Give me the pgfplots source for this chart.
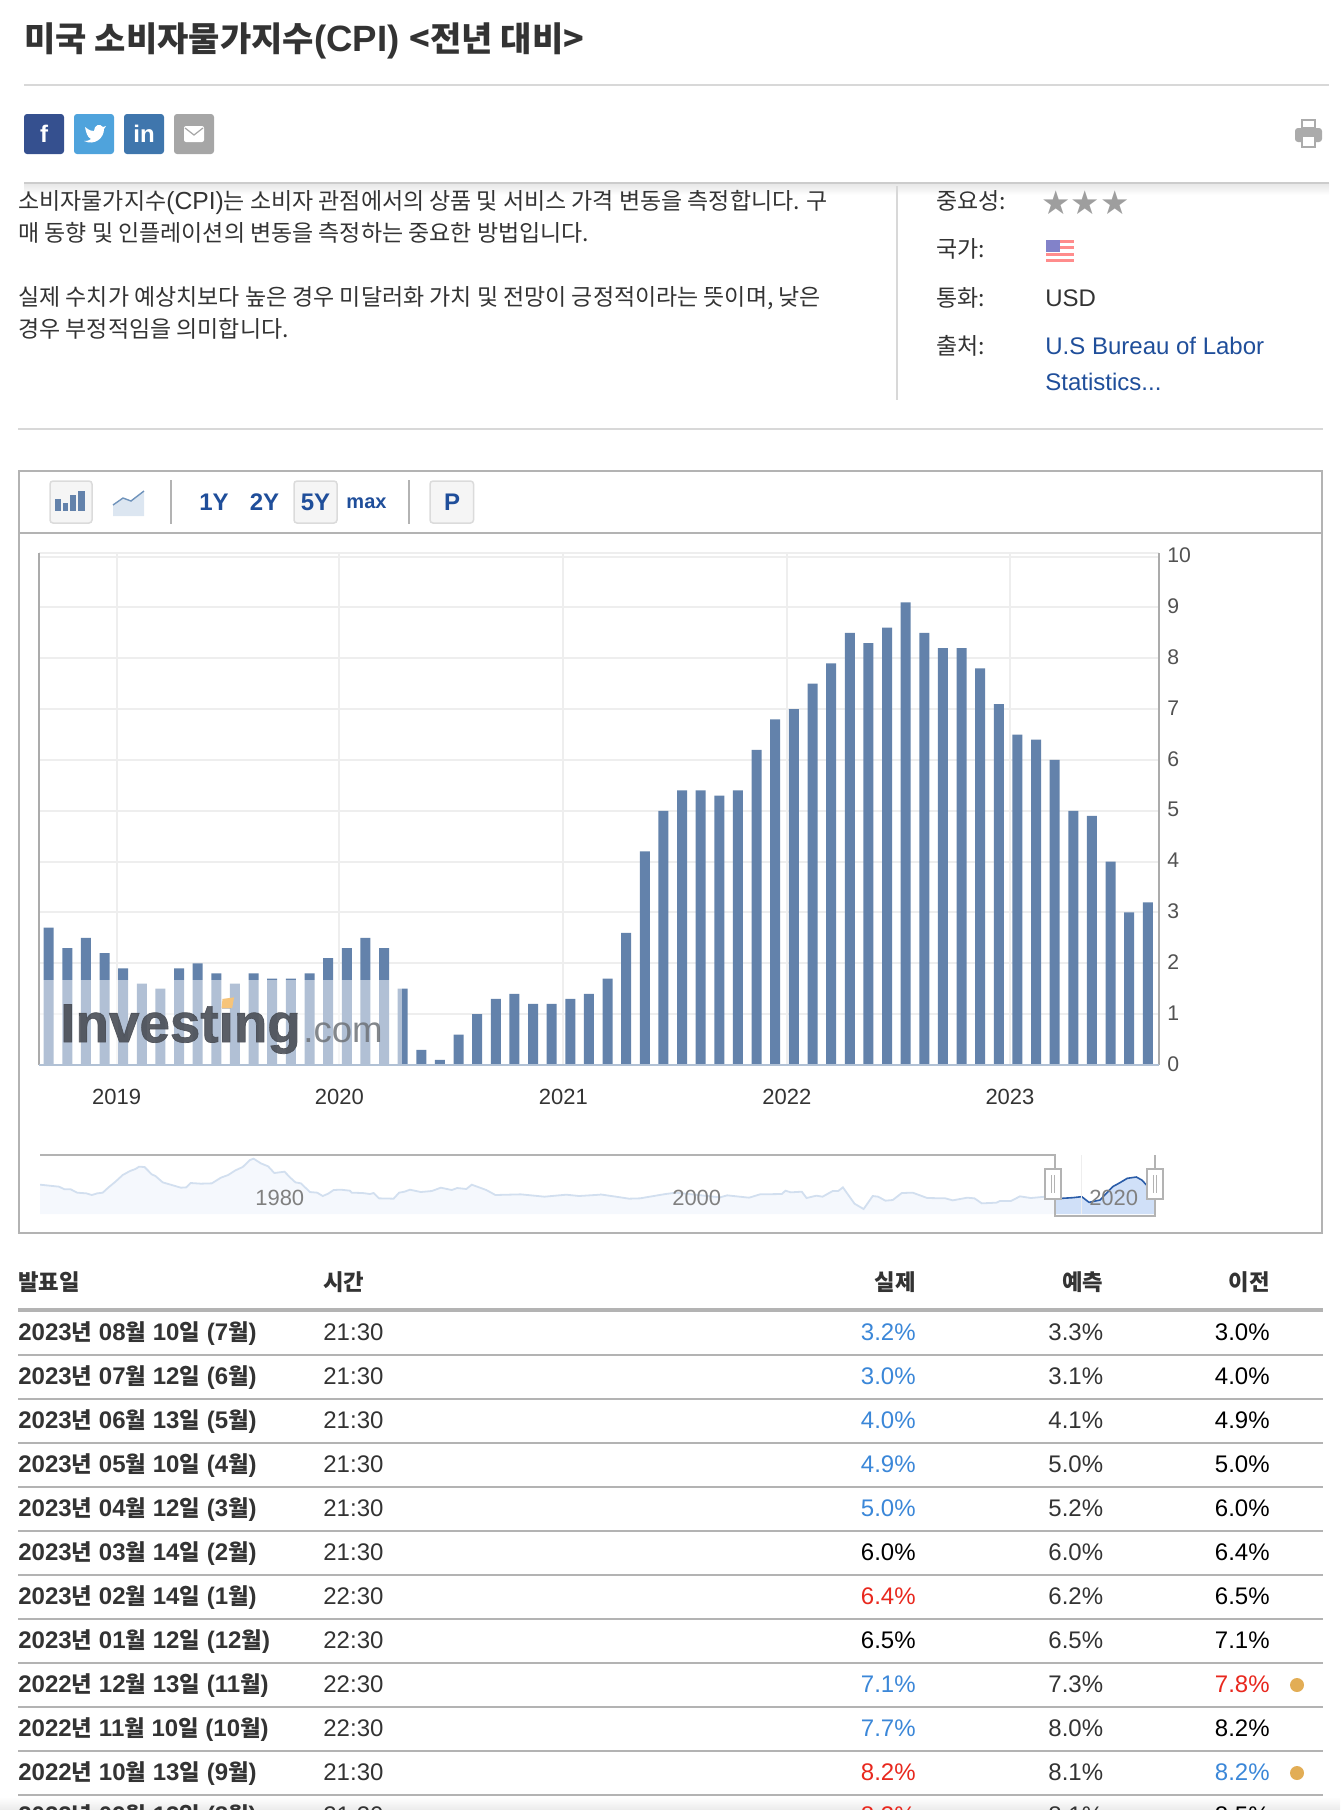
\documentclass[border=0pt]{standalone}
\usepackage{fontspec}
\usepackage{pgfplots}
\usepackage{pgfplotstable}
\pgfplotsset{compat=1.18}
\setmainfont{Liberation Sans}
\newfontfamily\kr[Scale=0.93]{Noto Sans CJK KR}
\newfontfamily\sym{DejaVu Sans}
\newfontfamily\wm[FakeBold=1.3]{Liberation Sans Bold}
\newcommand\fs[1]{\fontsize{#1}{#1}\selectfont}
\newcommand\K[1]{{\kr #1}}
\definecolor{barc}{HTML}{6382AB}
\definecolor{gridc}{HTML}{EEEEEE}
\definecolor{ruleg}{HTML}{B3B3B3}
\definecolor{rulel}{HTML}{D8D8D8}
\definecolor{axisg}{HTML}{ABABAB}
\definecolor{txt}{HTML}{333333}
\definecolor{lnk}{HTML}{1F4E9A}
\definecolor{up}{HTML}{E8281E}
\definecolor{dn}{HTML}{3B87D8}
\definecolor{dotc}{HTML}{E2AD55}
\definecolor{navf}{HTML}{F5F8FD}
\definecolor{navl}{HTML}{D2DFEF}
\definecolor{navs}{HTML}{D0E0F8}
\definecolor{navd}{HTML}{2A5CA8}
\definecolor{wmdark}{HTML}{4A4E56}
\definecolor{wmlite}{HTML}{6E7278}
\definecolor{iconf}{HTML}{DCE6F1}
\definecolor{iconl}{HTML}{6F93BB}
\definecolor{wmdot}{HTML}{F6C47A}
\pgfplotstableread{
idx cpi
0 2.7
1 2.3
2 2.5
3 2.2
4 1.9
5 1.6
6 1.5
7 1.9
8 2.0
9 1.8
10 1.6
11 1.8
12 1.7
13 1.7
14 1.8
15 2.1
16 2.3
17 2.5
18 2.3
19 1.5
20 0.3
21 0.1
22 0.6
23 1.0
24 1.3
25 1.4
26 1.2
27 1.2
28 1.3
29 1.4
30 1.7
31 2.6
32 4.2
33 5.0
34 5.4
35 5.4
36 5.3
37 5.4
38 6.2
39 6.8
40 7.0
41 7.5
42 7.9
43 8.5
44 8.3
45 8.6
46 9.1
47 8.5
48 8.2
49 8.2
50 7.8
51 7.1
52 6.5
53 6.4
54 6.0
55 5.0
56 4.9
57 4.0
58 3.0
59 3.2
}\cpitable
\pgfplotstableread{
z h
28 119
80 125
95 133
112 133
130 143
155 145
170 150
185 145
200 143
215 128
235 110
255 90
275 78
290 72
300 65
315 66
335 88
345 93
365 112
390 120
415 128
430 127
442 114
470 116
500 115
525 98
545 90
565 76
585 66
605 45
615 41
635 55
655 64
672 84
700 80
715 97
730 112
745 115
770 141
790 143
805 153
820 146
835 135
855 134
880 137
885 143
915 144
935 147
945 144
960 160
1000 161
1015 143
1030 140
1045 134
1075 141
1105 138
1130 128
1160 135
1175 129
1200 132
1215 119
1255 135
1280 150
1350 148
1415 155
1475 149
1510 153
1568 149
}\navA
\pgfplotstableread{
z h
0 148
50 156
80 161
110 160
180 147
210 143
330 157
350 151
410 158
440 148
500 147
510 137
525 142
555 140
568 159
595 152
612 155
640 138
655 138
668 127
700 176
725 192
750 153
765 155
785 167
805 165
830 144
860 143
900 159
950 160
970 166
1010 158
1030 160
1050 175
1090 173
1100 168
1130 168
1155 154
1185 159
1225 155
1252 155
}\navB
\pgfplotstableread{
z h
1252 155
1270 160
1300 158
1325 155
1345 172
1375 165
1390 148
1410 125
1430 113
1450 100
1475 96
1490 105
1503 120
1527 135
}\navC
% one table row: baseline, date args, time, actual, colour, forecast, previous, colour
\newcommand\row[9]{%
  \node[anchor=base west,inner sep=0,text=txt,font=\fs{12}] at (18,#1-1.2) {\bfseries #2};
  \node[anchor=base west,inner sep=0,text=txt,font=\fs{12}] at (323,#1-1.2) {#3};
  \node[anchor=base east,inner sep=0,text=#5,font=\fs{12}] at (916,#1-1.2) {#4};
  \node[anchor=base east,inner sep=0,text=txt,font=\fs{12}] at (1103.5,#1-1.2) {#6};
  \node[anchor=base east,inner sep=0,text=#8,font=\fs{12}] at (1270,#1-1.2) {#7};
  #9
}
\newcommand\dt[4]{#1\K{년} #2\K{월} #3\K{일} (#4\K{월})}
\begin{document}
\begin{tikzpicture}
\begin{scope}[x=0.5pt,y=-0.5pt]
\path[use as bounding box] (0,0) rectangle (1340,1810);
\clip (0,0) rectangle (1340,1810);
% title
\node[anchor=base west,inner sep=0,text=txt,font=\fs{18.3}\bfseries] at (24,51) {\K{미국 소비자물가지수}(CPI) \K{<전년 대비>}};
\draw[rulel,line width=1pt] (24,85)--(1329,85);
% share buttons
\fill[rounded corners=1.5pt,fill={rgb,255:red,53;green,80;blue,143}] (24,114) rectangle (64,154);
\fill[rounded corners=1.5pt,fill={rgb,255:red,79;green,163;blue,220}] (74,114) rectangle (114,154);
\fill[rounded corners=1.5pt,fill={rgb,255:red,63;green,118;blue,173}] (124,114) rectangle (164,154);
\fill[rounded corners=1.5pt,fill={rgb,255:red,166;green,166;blue,166}] (174,114) rectangle (214,154);
\node[text=white,font=\fs{12}\bfseries,inner sep=0] at (44,134) {f};
\fill[white] (85,127) .. controls (90,131) and (92,131) .. (94,131) .. controls (94,125) and (100,123) .. (103,127) -- (106,126) -- (104,129) .. controls (104,138) and (95,146) .. (84,141) .. controls (88,141) and (90,140) .. (91,139) .. controls (87,137) and (86,132) .. (85,127) -- cycle;
\node[text=white,font=\fs{12}\bfseries,inner sep=0] at (144,134) {in};
\fill[white,rounded corners=1pt] (184,126) rectangle (204,142);
\draw[gray!70,line width=.6pt] (185,128)--(194,135)--(203,128);
% printer
\fill[axisg,rounded corners=1.5pt] (1295,128) rectangle (1322,142);
\draw[axisg,line width=1pt,fill=white] (1302,120) rectangle (1315,128);
\draw[axisg,line width=1pt,fill=white] (1302,136) rectangle (1315,147);
% shadow rule
\shade[top color=black!10,bottom color=white] (24,183) rectangle (1329,195);
\draw[black!20,line width=1pt] (24,183)--(1329,183);
% description
\begin{scope}[every node/.style={anchor=base west,inner sep=0,text=txt,font=\fs{12.35}}]
\node at (18,209) {\K{소비자물가지수}(CPI)\K{는 소비자 관점에서의 상품 및 서비스 가격 변동을 측정합니다. 구}};
\node at (18,241) {\K{매 동향 및 인플레이션의 변동을 측정하는 중요한 방법입니다.}};
\node at (18,305) {\K{실제 수치가 예상치보다 높은 경우 미달러화 가치 및 전망이 긍정적이라는 뜻이며, 낮은}};
\node at (18,337) {\K{경우 부정적임을 의미합니다.}};
\node at (936,209) {\K{중요성:}};
\node at (936,257) {\K{국가:}};
\node at (936,306) {\K{통화:}};
\node at (936,354) {\K{출처:}};
\node[font=\fs{12}] at (1045,306) {USD};
\node[font=\fs{12},text=lnk] at (1045,354) {U.S Bureau of Labor};
\node[font=\fs{12},text=lnk] at (1045,390) {Statistics...};
\end{scope}
\draw[rulel,line width=.75pt] (897,186)--(897,400);
\node[anchor=base west,inner sep=0,text=black!38,font=\sym\fs{16.4}] at (1041,214) {★★★};
% flag
\fill[white] (1046,240) rectangle (1074,262);
\foreach \s in {240,246.3,252.6,258.9}{\fill[red!45!white] (1046,\s) rectangle (1074,\s+3.15);}
\fill[blue!40!gray!70!white] (1046,240) rectangle (1060,252);
\draw[rulel,line width=1pt] (18,429)--(1323,429);
% chart frame
\draw[ruleg,line width=1pt] (19,471) rectangle (1322,1233);
\draw[ruleg,line width=1pt] (19,533)--(1322,533);
% toolbar
\draw[rounded corners=1.5pt,draw=black!14,fill=black!4,line width=.75pt] (50,481) rectangle (92,523);
\foreach \a/\b/\t in {55/61/499,63/68/503,70/76/495,78/85/491}{\fill[barc] (\a,\t) rectangle (\b,511);}
\fill[iconf] (113,516)--(113,505)--(123,498)--(131,501)--(144,491)--(144,516)--cycle;
\draw[iconl,line width=.7pt] (113,505)--(123,498)--(131,501)--(144,491);
\draw[ruleg,line width=1pt] (171,480)--(171,524);
\draw[rounded corners=1.5pt,draw=black!14,fill=black!4,line width=.75pt] (294,481) rectangle (337,523);
\draw[ruleg,line width=1pt] (409,480)--(409,524);
\draw[rounded corners=1.5pt,draw=black!14,fill=black!4,line width=.75pt] (430,481) rectangle (473.5,523);
\begin{scope}[every node/.style={anchor=base,inner sep=0,text=lnk,font=\fs{12}\bfseries}]
\node at (214,510) {1Y};
\node at (264.5,510) {2Y};
\node at (315.5,510) {5Y};
\node[font=\fs{10}\bfseries] at (366.5,508) {max};
\node at (452,510) {P};
\end{scope}
% table
\node[anchor=base west,inner sep=0,text=txt,font=\fs{12}\bfseries] at (18,1290) {\K{발표일}};
\node[anchor=base west,inner sep=0,text=txt,font=\fs{12}\bfseries] at (323,1290) {\K{시간}};
\node[anchor=base east,inner sep=0,text=txt,font=\fs{12}\bfseries] at (916,1290) {\K{실제}};
\node[anchor=base east,inner sep=0,text=txt,font=\fs{12}\bfseries] at (1103.5,1290) {\K{예측}};
\node[anchor=base east,inner sep=0,text=txt,font=\fs{12}\bfseries] at (1270,1290) {\K{이전}};
\draw[ruleg,line width=2pt] (18,1310)--(1323,1310);
\foreach \y in {1355,1399,1443,1487,1531,1575,1619,1663,1707,1751,1795}{\draw[ruleg,line width=1pt] (18,\y)--(1323,\y);}
\shade[top color=white,bottom color=black!8] (0,1797) rectangle (1340,1810);
\row{1342}{\dt{2023}{08}{10}{7}}{21:30}{3.2\%}{dn}{3.3\%}{3.0\%}{black}{}
\row{1386}{\dt{2023}{07}{12}{6}}{21:30}{3.0\%}{dn}{3.1\%}{4.0\%}{black}{}
\row{1430}{\dt{2023}{06}{13}{5}}{21:30}{4.0\%}{dn}{4.1\%}{4.9\%}{black}{}
\row{1474}{\dt{2023}{05}{10}{4}}{21:30}{4.9\%}{dn}{5.0\%}{5.0\%}{black}{}
\row{1518}{\dt{2023}{04}{12}{3}}{21:30}{5.0\%}{dn}{5.2\%}{6.0\%}{black}{}
\row{1562}{\dt{2023}{03}{14}{2}}{21:30}{6.0\%}{black}{6.0\%}{6.4\%}{black}{}
\row{1606}{\dt{2023}{02}{14}{1}}{22:30}{6.4\%}{up}{6.2\%}{6.5\%}{black}{}
\row{1650}{\dt{2023}{01}{12}{12}}{22:30}{6.5\%}{black}{6.5\%}{7.1\%}{black}{}
\row{1694}{\dt{2022}{12}{13}{11}}{22:30}{7.1\%}{dn}{7.3\%}{7.8\%}{up}{\fill[dotc] (1297,1685) circle (7);}
\row{1738}{\dt{2022}{11}{10}{10}}{22:30}{7.7\%}{dn}{8.0\%}{8.2\%}{black}{}
\row{1782}{\dt{2022}{10}{13}{9}}{21:30}{8.2\%}{up}{8.1\%}{8.2\%}{dn}{\fill[dotc] (1297,1773) circle (7);}
\row{1825}{\dt{2022}{09}{13}{8}}{21:30}{8.3\%}{up}{8.1\%}{8.5\%}{black}{}
\end{scope}
% main chart
\begin{axis}[
  at={(39*0.5pt,-1065*0.5pt)},anchor=south west,
  scale only axis,width=560pt,height=256pt,
  xmin=-0.52,xmax=59.6,ymin=0,ymax=10.07,
  axis line style={draw=none},
  ytick={0,1,2,3,4,5,6,7,8,9,10},
  xtick={3.65,15.6,27.63,39.62,51.6},
  xticklabels={2019,2020,2021,2022,2023},
  grid=major,
  major grid style={draw=gridc,line width=1pt},
  major tick length=0pt,
  yticklabel pos=right,
  /pgf/number format/assume math mode=true,
  yticklabel style={anchor=west,inner xsep=0pt,xshift=4pt,yshift=.5pt,font=\fs{10.6},text=black!68},
  xticklabel style={anchor=base,yshift=-19.5pt,font=\fs{11},text=txt},
  clip=false,
]
\addplot[ybar,bar width=5pt,bar shift=0pt,fill=barc,draw=none] table[x=idx,y=cpi] {\cpitable};
\fill[white,opacity=0.5] (axis cs:-0.52,0) rectangle (axis cs:18.98,1.67);
\node[anchor=base west,inner sep=0,text=wmdark,opacity=.9,font=\wm\fs{27.4}] at (axis cs:0.6,0.45) {Investing};
\node[anchor=base west,inner sep=0,text=wmlite,opacity=.85,font=\fs{18.3}] at (axis cs:13.65,0.45) {.com};
\fill[wmdot] (axis cs:9.33,1.3) -- (axis cs:9.95,1.33) -- (axis cs:9.85,1.12) -- (axis cs:9.28,1.12) -- cycle;
\draw[gridc,line width=1pt] (rel axis cs:0,1)--(rel axis cs:1,1);
\draw[axisg,line width=1pt] (rel axis cs:0,0)--(rel axis cs:0,1);
\draw[axisg,line width=1pt] (rel axis cs:1,0)--(rel axis cs:1,1);
\draw[barc!50!white,line width=1pt] (rel axis cs:0,0)--(rel axis cs:1,0);
\end{axis}
% navigator
\begin{axis}[
  at={(40*0.5pt,-1214*0.5pt)},anchor=south west,
  scale only axis,width=557.5pt,height=29.5pt,
  xmin=1968.5,xmax=2021.98,ymin=0,ymax=17.7,
  axis line style={draw=none},
  axis on top,
  ytick=\empty,
  xtick={1980,2000,2020},
  xticklabels={1980,2000,2020},
  major tick length=0pt,
  xticklabel style={anchor=center,yshift=8pt,font=\fs{11},text=black!50},
  clip=false,
]
\addplot[fill=navf,draw=none] table[x expr=1968.02+\thisrow{z}/57.34,y expr=(207-\thisrow{h})/10] {\navA} \closedcycle;
\addplot[fill=navf,draw=none] table[x expr=1995.36+\thisrow{z}/57.34,y expr=(207-\thisrow{h})/10] {\navB} \closedcycle;
\addplot[fill=navs,draw=none] table[x expr=1995.36+\thisrow{z}/57.34,y expr=(207-\thisrow{h})/10] {\navC} \closedcycle;
\addplot[navl,line width=.9pt] table[x expr=1968.02+\thisrow{z}/57.34,y expr=(207-\thisrow{h})/10] {\navA};
\addplot[navl,line width=.9pt] table[x expr=1995.36+\thisrow{z}/57.34,y expr=(207-\thisrow{h})/10] {\navB};
\addplot[navd,line width=.8pt] table[x expr=1995.36+\thisrow{z}/57.34,y expr=(207-\thisrow{h})/10] {\navC};
\end{axis}
\begin{scope}[x=0.5pt,y=-0.5pt]
\draw[gridc,line width=.5pt] (1081,1155)--(1081,1214);
\draw[ruleg,line width=1pt] (40,1155)--(1055,1155)--(1055,1216)--(1155,1216)--(1155,1155);
\foreach \a in {1045,1147}{
  \draw[ruleg,line width=1pt,fill=white] (\a,1169) rectangle (\a+16,1199);
  \draw[ruleg,line width=.4pt] (\a+6.5,1175)--(\a+6.5,1193) (\a+9.5,1175)--(\a+9.5,1193);
}
\end{scope}
\end{tikzpicture}
\end{document}
